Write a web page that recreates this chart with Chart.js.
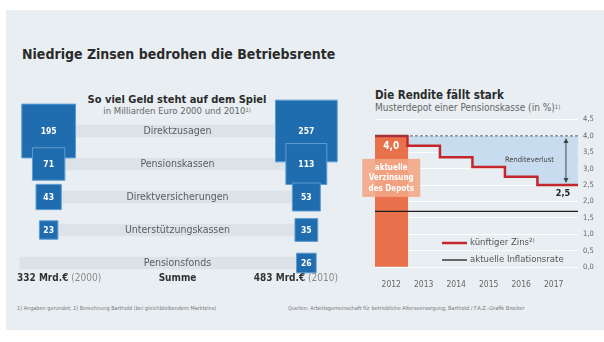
<!DOCTYPE html>
<html lang="de">
<head>
<meta charset="utf-8">
<title>Niedrige Zinsen bedrohen die Betriebsrente</title>
<script src="https://cdn.jsdelivr.net/npm/chart.js"></script>
<style>
  html, body { margin: 0; padding: 0; background: #fff; }
  body {
    width: 604px; height: 342px; position: relative; overflow: hidden;
    font-family: "DejaVu Sans Condensed", "DejaVu Sans", sans-serif;
  }
  #panel { position: absolute; left: 6px; top: 10px; width: 598px; height: 320px; background: #e8eef2; }
  .t { position: absolute; white-space: nowrap; line-height: 1; }
  #titel { left: 22px; top: 47px; font-size: 14px; font-weight: bold; color: #2b2b2b; }
  #geldTitel { left: 177px; top: 94px; transform: translateX(-50%); font-size: 11px; font-weight: bold; color: #2b2b2b; }
  #geldSub { left: 177px; top: 106px; transform: translateX(-50%); font-size: 9.5px; color: #666; }
  #renditeTitel { left: 375px; top: 90px; font-size: 11.5px; font-weight: bold; color: #2b2b2b; }
  #renditeSub { left: 375px; top: 103px; font-size: 10px; color: #666; }
  .fuss { top: 306px; font-size: 5.5px; color: #777; }
  sup { font-size: 60%; vertical-align: 40%; }
  canvas { position: absolute; }
  #geld { left: 10px; top: 85px; }
  #rendite { left: 360px; top: 100px; }
</style>
</head>
<body>
<div id="panel"></div>
<div class="t" id="titel">Niedrige Zinsen bedrohen die Betriebsrente</div>
<div class="t" id="geldTitel">So viel Geld steht auf dem Spiel</div>
<div class="t" id="geldSub">in Milliarden Euro 2000 und 2010<sup>1)</sup></div>
<div class="t" id="renditeTitel">Die Rendite fällt stark</div>
<div class="t" id="renditeSub">Musterdepot einer Pensionskasse (in %)<sup>1)</sup></div>
<div class="t fuss" style="left:17px">1) Angaben gerundet; 2) Berechnung Barthold (bei gleichbleibendem Marktzins)</div>
<div class="t fuss" style="left:288px">Quellen: Arbeitsgemeinschaft für betriebliche Altersversorgung; Barthold / F.A.Z.-Grafik Brocker</div>

<canvas id="geld" width="345" height="205"></canvas>
<canvas id="rendite" width="244" height="190"></canvas>

<script>
// Deckungsmittel der Betriebsrente nach Durchführungsweg, Mrd. Euro
const wege = ['Direktzusagen', 'Pensionskassen', 'Direktversicherungen', 'Unterstützungskassen', 'Pensionsfonds'];
const vergleichsjahre = ['2000', '2010'];
const mrd2000 = [195, 71, 43, 23, 0];
const mrd2010 = [257, 113, 53, 35, 26];
const summen = [332, 483];

// Musterdepot einer Pensionskasse, Rendite in %
const jahre = [2012, 2013, 2014, 2015, 2016, 2017];
const kuenftigerZins = [4.0, 3.7, 3.35, 3.05, 2.75, 2.5];
const aktuelleVerzinsung = [4.0];
const inflationsrate = [1.7];
const renditeTicks = [0, 0.5, 1, 1.5, 2, 2.5, 3, 3.5, 4, 4.5];

const SCHRIFT = '"DejaVu Sans Condensed", "DejaVu Sans", sans-serif';
const BLAU = '#1f6cae';
const KANTE = 3.85;          // Kantenlänge der Quadrate je Wurzel(Mrd)
const ZEILE_START = -0.113;  // Zeilenbalken ohne Quadrat links beginnen hier

const komma = v => v.toFixed(1).replace('.', ',');

// Quadrate: Fläche proportional zum Betrag
function quadrate(werte, spalte) {
  return werte
    .map((v, i) => ({ x: spalte, y: wege[i], r: KANTE * Math.sqrt(v) / (2 * Math.SQRT1_2), v }))
    .filter(p => p.v > 0);
}

const geldBeschriftung = {
  id: 'geldBeschriftung',
  afterDatasetsDraw(chart) {
    const ctx = chart.ctx;
    const xs = chart.scales.x, ys = chart.scales.y;
    ctx.save();
    ctx.textBaseline = 'middle';

    // Zeilenbeschriftung mittig
    ctx.textAlign = 'center';
    ctx.font = '10.5px ' + SCHRIFT;
    ctx.fillStyle = '#5c5c5c';
    wege.forEach((w, i) => ctx.fillText(w, xs.getPixelForValue(0.5), ys.getPixelForValue(i)));

    // Werte in den Quadraten
    ctx.font = 'bold 8.5px ' + SCHRIFT;
    ctx.fillStyle = '#fff';
    [0, 1].forEach(d => {
      const meta = chart.getDatasetMeta(d);
      meta.data.forEach((el, j) => ctx.fillText(String(chart.data.datasets[d].data[j].v), el.x, el.y + 0.5));
    });

    // Summenzeile
    const ySumme = ys.getPixelForValue(wege.length - 1) + 15;
    ctx.font = 'bold 10px ' + SCHRIFT;
    ctx.fillStyle = '#333';
    ctx.fillText('Summe', xs.getPixelForValue(0.5), ySumme);

    const teil = (fett, normal, x, rechts) => {
      ctx.font = 'bold 10px ' + SCHRIFT;
      const w1 = ctx.measureText(fett).width;
      ctx.font = '10px ' + SCHRIFT;
      const w2 = ctx.measureText(normal).width;
      const x0 = rechts ? x - w1 - w2 : x;
      ctx.textAlign = 'left';
      ctx.font = 'bold 10px ' + SCHRIFT;
      ctx.fillStyle = '#333';
      ctx.fillText(fett, x0, ySumme);
      ctx.font = '10px ' + SCHRIFT;
      ctx.fillStyle = '#8a8a8a';
      ctx.fillText(normal, x0 + w1, ySumme);
    };
    teil(summen[0] + ' Mrd.€', ' (' + vergleichsjahre[0] + ')', chart.chartArea.left + 7, false);
    teil(summen[1] + ' Mrd.€', ' (' + vergleichsjahre[1] + ')', chart.chartArea.right - 7, true);
    ctx.restore();
  }
};

new Chart(document.getElementById('geld'), {
  type: 'bar',
  data: {
    labels: wege,
    datasets: [
      { type: 'bubble', label: vergleichsjahre[0], data: quadrate(mrd2000, 0), pointStyle: 'rect',
        backgroundColor: BLAU, borderColor: '#5e9dd3', borderWidth: 1, clip: false, order: 1 },
      { type: 'bubble', label: vergleichsjahre[1], data: quadrate(mrd2010, 1), pointStyle: 'rect',
        backgroundColor: BLAU, borderColor: '#5e9dd3', borderWidth: 1, clip: false, order: 1 },
      { type: 'bar', label: 'Zeilen', data: wege.map((w, i) => [mrd2000[i] > 0 ? 0 : ZEILE_START, 1]),
        backgroundColor: '#dce3e8', barThickness: 12, order: 2 }
    ]
  },
  options: {
    indexAxis: 'y',
    responsive: false,
    animation: false,
    events: [],
    layout: { autoPadding: false, padding: { left: 0, right: 10, top: 29.5, bottom: 10.5 } },
    scales: {
      x: { type: 'linear', min: -0.15, max: 1.15, display: false },
      y: { type: 'category', offset: true, display: false }
    },
    plugins: { legend: { display: false }, tooltip: { enabled: false } }
  },
  plugins: [geldBeschriftung]
});

// Rendite-Chart
const X_MIN = 2011.5, X_MAX = 2017.75;
const zinsPunkte = jahre.map((j, i) => ({ x: j - 0.5, y: kuenftigerZins[i] }))
  .concat([{ x: X_MAX, y: kuenftigerZins[kuenftigerZins.length - 1] }]);
const niveau = kuenftigerZins[0];

const renditeBeschriftung = {
  id: 'renditeBeschriftung',
  afterDatasetsDraw(chart) {
    const ctx = chart.ctx;
    const xs = chart.scales.x, ys = chart.scales.y;
    const area = chart.chartArea;
    ctx.save();
    ctx.textBaseline = 'middle';
    ctx.textAlign = 'center';

    // Balken 2012: Wert und Hinweis
    const balken = chart.getDatasetMeta(0).data[0];
    ctx.font = 'bold 10px ' + SCHRIFT;
    ctx.fillStyle = '#fff';
    ctx.fillText(komma(aktuelleVerzinsung[0]), balken.x, balken.y + 11);

    const boxTop = balken.y + 23;
    ctx.fillStyle = 'rgba(243,166,134,0.9)';
    ctx.fillRect(balken.x - 29, boxTop, 58, 38);
    ctx.fillStyle = '#fff';
    ctx.font = 'bold 8px ' + SCHRIFT;
    ['aktuelle', 'Verzinsung', 'des Depots'].forEach((z, i) => ctx.fillText(z, balken.x, boxTop + 9 + i * 10.5));

    // Renditeverlust-Pfeil
    const ende = kuenftigerZins[kuenftigerZins.length - 1];
    const px = xs.getPixelForValue(2017.38);
    const y1 = ys.getPixelForValue(niveau) + 2, y2 = ys.getPixelForValue(ende) - 2;
    ctx.strokeStyle = '#444';
    ctx.fillStyle = '#444';
    ctx.lineWidth = 1;
    ctx.beginPath(); ctx.moveTo(px, y1 + 3); ctx.lineTo(px, y2 - 3); ctx.stroke();
    ctx.beginPath(); ctx.moveTo(px, y1); ctx.lineTo(px - 2.5, y1 + 5); ctx.lineTo(px + 2.5, y1 + 5); ctx.fill();
    ctx.beginPath(); ctx.moveTo(px, y2); ctx.lineTo(px - 2.5, y2 - 5); ctx.lineTo(px + 2.5, y2 - 5); ctx.fill();

    ctx.font = '7.5px ' + SCHRIFT;
    ctx.textAlign = 'right';
    ctx.fillText('Renditeverlust', px - 12, (y1 + y2) / 2);

    ctx.textAlign = 'center';
    ctx.font = 'bold 9px ' + SCHRIFT;
    ctx.fillStyle = '#222';
    ctx.fillText(komma(ende), px - 3, ys.getPixelForValue(ende) + 9);

    // Legende
    const lx = area.left + 67;
    [[2, area.bottom - 24], [3, area.bottom - 7]].forEach(([d, ly]) => {
      const ds = chart.data.datasets[d];
      ctx.strokeStyle = ds.borderColor;
      ctx.lineWidth = ds.borderWidth;
      ctx.beginPath(); ctx.moveTo(lx, ly); ctx.lineTo(lx + 25, ly); ctx.stroke();
      ctx.fillStyle = '#555';
      ctx.font = '9.5px ' + SCHRIFT;
      ctx.textAlign = 'left';
      ctx.fillText(ds.label, lx + 28, ly);
    });
    ctx.restore();
  }
};

new Chart(document.getElementById('rendite'), {
  type: 'bar',
  data: {
    datasets: [
      { type: 'bar', label: 'aktuelle Verzinsung des Depots', data: [{ x: jahre[0], y: aktuelleVerzinsung[0] }],
        backgroundColor: '#e8714b', barThickness: 33, order: 4 },
      { type: 'line', label: 'Ausgangsniveau', data: [{ x: X_MIN, y: niveau }, { x: X_MAX, y: niveau }],
        borderColor: '#555', borderDash: [3, 2], borderWidth: 1, pointRadius: 0, order: 2 },
      { type: 'line', label: 'künftiger Zins²⁾', data: zinsPunkte, stepped: 'before',
        borderColor: '#c3262d', borderWidth: 2.5, pointRadius: 0,
        fill: '-1', backgroundColor: 'rgba(197,219,238,0.95)', order: 3 },
      { type: 'line', label: 'aktuelle Inflationsrate',
        data: [{ x: X_MIN, y: inflationsrate[0] }, { x: X_MAX, y: inflationsrate[0] }],
        borderColor: '#1e1e1e', borderWidth: 1.3, pointRadius: 0, order: 1 }
    ]
  },
  options: {
    responsive: false,
    animation: false,
    events: [],
    layout: { padding: { left: 15, top: 19.5, right: 0, bottom: 0 } },
    scales: {
      x: {
        type: 'linear', min: X_MIN, max: X_MAX, offset: false,
        grid: { display: false, offset: false },
        border: { display: false },
        afterBuildTicks: s => { s.ticks = jahre.map(v => ({ value: v })); },
        afterFit: s => { s.height = 23; },
        ticks: { padding: 5, color: '#666', font: { family: SCHRIFT, size: 8.5 }, callback: v => String(v), maxRotation: 0 }
      },
      y: {
        position: 'right', min: 0, max: 4.5,
        afterBuildTicks: s => { s.ticks = renditeTicks.map(v => ({ value: v })); },
        afterFit: s => { s.width = 26; },
        grid: { color: 'rgba(255,255,255,0.85)', drawTicks: false },
        border: { display: false },
        ticks: { padding: 5, color: '#666', font: { family: SCHRIFT, size: 7.5 }, callback: v => komma(v) }
      }
    },
    plugins: { legend: { display: false }, tooltip: { enabled: false } }
  },
  plugins: [renditeBeschriftung]
});
</script>
</body>
</html>
